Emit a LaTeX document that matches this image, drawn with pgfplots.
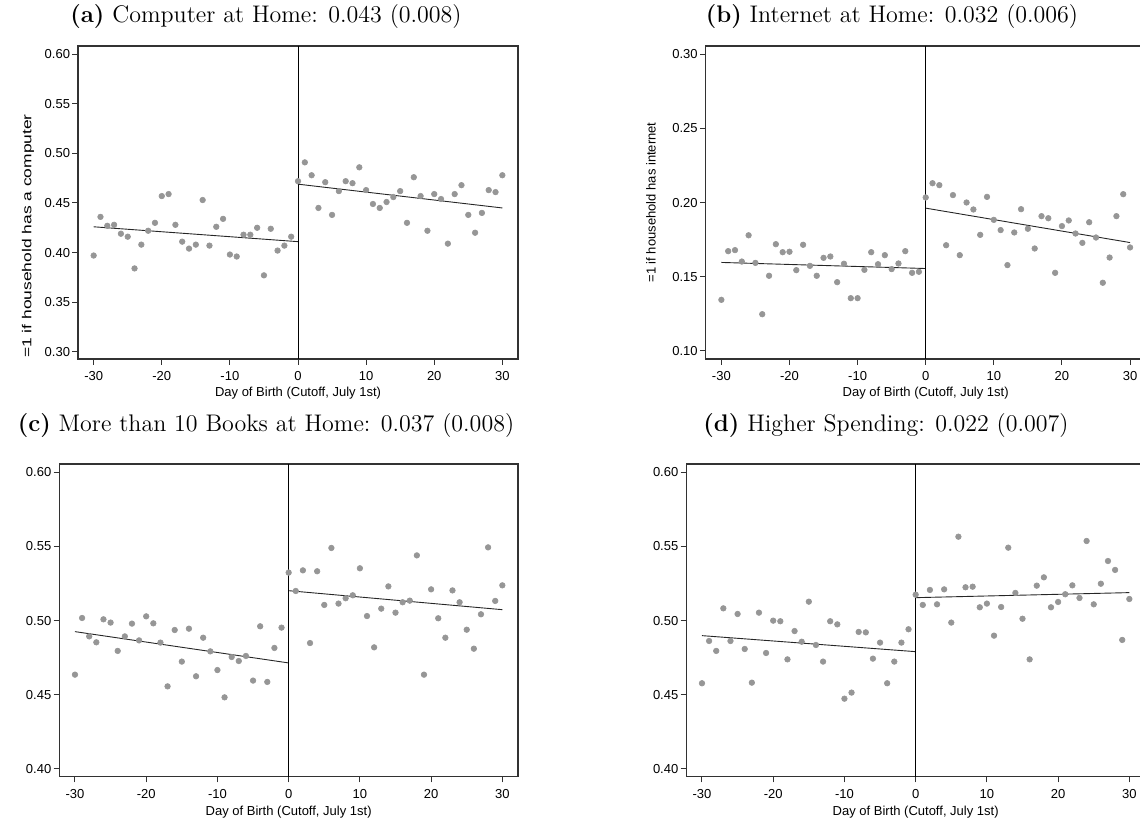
\documentclass[border=0pt]{standalone}
\usepackage{pgfplots}
\pgfplotsset{compat=1.18}
\usepackage{fontspec}
\newfontfamily\axfont{Liberation Sans}
\definecolor{dotgray}{RGB}{150,150,150}
\definecolor{framegray}{RGB}{50,50,50}
\pgfplotsset{
 rdstyle/.style={
  scale only axis,
  anchor=north west,
  axis line style={framegray, line width=0.55pt},
  tick align=outside,
  xtick pos=left, ytick pos=left,
  major tick length=2.8pt,
  tick style={framegray, line width=0.5pt},
  tick label style={font=\axfont\fontsize{6.5}{7}\selectfont},
  yticklabel style={inner xsep=1pt},
  xtick={-30,-20,-10,0,10,20,30},
  xticklabels={-30,-20,-10,0,10,20,30},
  label style={font=\axfont\fontsize{6.5}{7}\selectfont},
  xlabel={Day of Birth (Cutoff, July 1st)},
 },
 dots/.style={color=dotgray, only marks, mark=*, mark size=1.4pt, mark options={solid, draw=dotgray, fill=dotgray, line width=0.3pt}},
 fitl/.style={black!85, line width=0.45pt, no marks},
 vline/.style={black, line width=0.45pt, no marks},
}
\begin{document}
\begin{tikzpicture}
\useasboundingbox (0,0) rectangle (570pt,-412.5pt);
\clip (0,0) rectangle (570pt,-412.5pt);
\tikzset{ttl/.style={anchor=base, font=\fontsize{12}{14}\selectfont}}
\node[ttl] at (133pt,-11.35pt) {\textbf{(a)} Computer at Home: 0.043 (0.008)};
\node[ttl] at (446pt,-11.35pt) {\textbf{(b)} Internet at Home: 0.032 (0.006)};
\node[ttl] at (133pt,-215.85pt) {\textbf{(c)} More than 10 Books at Home: 0.037 (0.008)};
\node[ttl] at (443pt,-215.85pt) {\textbf{(d)} Higher Spending: 0.022 (0.007)};

% (a)
\begin{axis}[rdstyle, at={(39pt,-23pt)}, width=220pt, height=156.5pt,
  xmin=-32.3, xmax=32.3, ymin=0.2926, ymax=0.6084,
  ytick={0.30,0.35,0.40,0.45,0.50,0.55,0.60},
  yticklabels={0.30,0.35,0.40,0.45,0.50,0.55,0.60},
  xlabel style={at={(axis description cs:0.5,-0.1086)}, anchor=center},
  ylabel={=1 if household has a computer},
  ylabel style={at={(axis description cs:-0.1136,0.393)}, anchor=center, xscale=1.34}]
\addplot[dots] table {
-30 0.397
-29 0.436
-28 0.427
-27 0.428
-26 0.419
-25 0.416
-24 0.384
-23 0.408
-22 0.422
-21 0.430
-20 0.457
-19 0.459
-18 0.428
-17 0.411
-16 0.404
-15 0.408
-14 0.453
-13 0.407
-12 0.426
-11 0.434
-10 0.398
-9 0.396
-8 0.418
-7 0.418
-6 0.425
-5 0.377
-4 0.424
-3 0.402
-2 0.407
-1 0.416
};
\addplot[dots] table {
0 0.472
1 0.491
2 0.478
3 0.445
4 0.471
5 0.438
6 0.462
7 0.472
8 0.470
9 0.486
10 0.463
11 0.449
12 0.445
13 0.451
14 0.456
15 0.462
16 0.430
17 0.476
18 0.457
19 0.422
20 0.459
21 0.454
22 0.409
23 0.459
24 0.468
25 0.438
26 0.420
27 0.440
28 0.463
29 0.461
30 0.478
};
\addplot[fitl] coordinates {(-30,0.426) (0,0.411)};
\addplot[fitl] coordinates {(0,0.469) (30,0.445)};
\addplot[vline] coordinates {(0,0.2926) (0,0.6084)};
\end{axis}

% (b)
\begin{axis}[rdstyle, at={(352.85pt,-23pt)}, width=220pt, height=156.5pt,
  xmin=-32.3, xmax=32.3, ymin=0.0946, ymax=0.3056,
  ytick={0.10,0.15,0.20,0.25,0.30},
  yticklabels={0.10,0.15,0.20,0.25,0.30},
  xlabel style={at={(axis description cs:0.5,-0.1086)}, anchor=center},
  ylabel={=1 if household has internet},
  ylabel style={at={(axis description cs:-0.1243,0.5)}, anchor=center}]
\addplot[dots] table {
-30 0.1345
-29 0.1673
-28 0.1680
-27 0.1603
-26 0.1780
-25 0.1594
-24 0.1248
-23 0.1507
-22 0.1720
-21 0.1666
-20 0.1669
-19 0.1545
-18 0.1716
-17 0.1574
-16 0.1507
-15 0.1628
-14 0.1637
-13 0.1464
-12 0.1588
-11 0.1356
-10 0.1356
-9 0.1547
-8 0.1666
-7 0.1585
-6 0.1646
-5 0.1552
-4 0.1590
-3 0.1673
-2 0.1527
-1 0.1534
};
\addplot[dots] table {
0 0.2035
1 0.2131
2 0.2118
3 0.1713
4 0.2051
5 0.1646
6 0.2001
7 0.1954
8 0.1783
9 0.2039
10 0.1884
11 0.1815
12 0.1579
13 0.1799
14 0.1956
15 0.1824
16 0.1691
17 0.1909
18 0.1895
19 0.1527
20 0.1842
21 0.1880
22 0.1792
23 0.1729
24 0.1868
25 0.1765
26 0.1460
27 0.1630
28 0.1909
29 0.2057
30 0.1698
};
\addplot[fitl] coordinates {(-30,0.1597) (0,0.1556)};
\addplot[fitl] coordinates {(0,0.1963) (30,0.1731)};
\addplot[vline] coordinates {(0,0.0946) (0,0.3056)};
\end{axis}

% (c)
\begin{axis}[rdstyle, at={(29.65pt,-232pt)}, width=229.35pt, height=156.35pt,
  xmin=-32.2, xmax=32.2, ymin=0.3948, ymax=0.6056,
  ytick={0.40,0.45,0.50,0.55,0.60},
  yticklabels={0.40,0.45,0.50,0.55,0.60},
  xlabel style={at={(axis description cs:0.5,-0.112)}, anchor=center}]
\addplot[dots] table {
-30 0.4636
-29 0.5018
-28 0.4894
-27 0.4854
-26 0.5009
-25 0.4987
-24 0.4796
-23 0.4894
-22 0.4980
-21 0.4867
-20 0.5029
-19 0.4982
-18 0.4852
-17 0.4557
-16 0.4937
-15 0.4724
-14 0.4946
-13 0.4625
-12 0.4885
-11 0.4793
-10 0.4667
-9 0.4483
-8 0.4755
-7 0.4728
-6 0.4762
-5 0.4596
-4 0.4962
-3 0.4587
-2 0.4816
-1 0.4953
};
\addplot[dots] table {
0 0.5324
1 0.5200
2 0.5339
3 0.4849
4 0.5333
5 0.5106
6 0.5490
7 0.5115
8 0.5151
9 0.5171
10 0.5353
11 0.5031
12 0.4820
13 0.5081
14 0.5231
15 0.5054
16 0.5124
17 0.5135
18 0.5440
19 0.4636
20 0.5211
21 0.5016
22 0.4885
23 0.5204
24 0.5124
25 0.4939
26 0.4811
27 0.5043
28 0.5494
29 0.5133
30 0.5238
};
\addplot[fitl] coordinates {(-30,0.4926) (0,0.4715)};
\addplot[fitl] coordinates {(0,0.5202) (30,0.5074)};
\addplot[vline] coordinates {(0,0.3948) (0,0.6056)};
\end{axis}

% (d)
\begin{axis}[rdstyle, at={(343.15pt,-232pt)}, width=229.35pt, height=156.35pt,
  xmin=-32.2, xmax=32.2, ymin=0.3948, ymax=0.6056,
  ytick={0.40,0.45,0.50,0.55,0.60},
  yticklabels={0.40,0.45,0.50,0.55,0.60},
  xlabel style={at={(axis description cs:0.5,-0.112)}, anchor=center}]
\addplot[dots] table {
-30 0.4578
-29 0.4863
-28 0.4796
-27 0.5083
-26 0.4863
-25 0.5045
-24 0.4809
-23 0.4582
-22 0.5054
-21 0.4782
-20 0.5000
-19 0.4996
-18 0.4739
-17 0.4930
-16 0.4858
-15 0.5128
-14 0.4836
-13 0.4724
-12 0.4996
-11 0.4975
-10 0.4474
-9 0.4515
-8 0.4924
-7 0.4921
-6 0.4744
-5 0.4852
-4 0.4578
-3 0.4724
-2 0.4852
-1 0.4942
};
\addplot[dots] table {
0 0.5175
1 0.5106
2 0.5207
3 0.5110
4 0.5211
5 0.4987
6 0.5566
7 0.5225
8 0.5229
9 0.5090
10 0.5115
11 0.4899
12 0.5092
13 0.5492
14 0.5187
15 0.5013
16 0.4739
17 0.5236
18 0.5292
19 0.5090
20 0.5126
21 0.5178
22 0.5238
23 0.5153
24 0.5537
25 0.5110
26 0.5249
27 0.5402
28 0.5342
29 0.4870
30 0.5146
};
\addplot[fitl] coordinates {(-30,0.4899) (0,0.4791)};
\addplot[fitl] coordinates {(0,0.5155) (30,0.5189)};
\addplot[vline] coordinates {(0,0.3948) (0,0.6056)};
\end{axis}
\end{tikzpicture}
\end{document}
